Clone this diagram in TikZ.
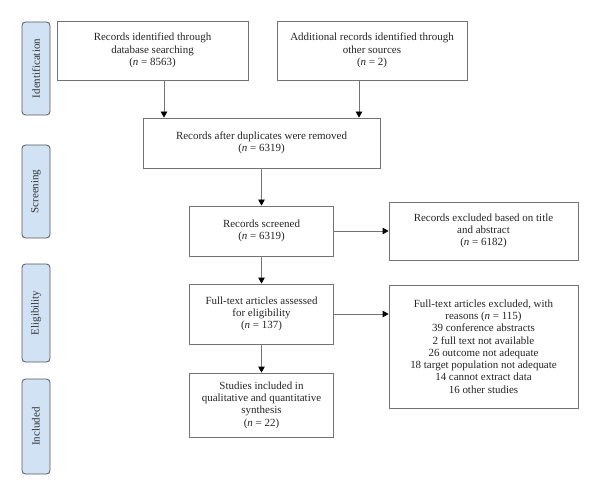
\documentclass[tikz,border=0pt]{standalone}
\usepackage{fontspec}
\setmainfont{Liberation Serif}
\usetikzlibrary{arrows.meta}
\definecolor{labfill}{RGB}{208,226,244}
\begin{document}
\begin{tikzpicture}[x=1bp,y=-1bp,
  box/.style={draw=black!55,line width=0.8bp,align=center,inner sep=2bp,
    font=\fontsize{11}{12.3}\selectfont,text=black!85},
  lab/.style={draw=black!65,fill=labfill,line width=0.8bp,rounded corners=3.5bp,
    minimum width=28bp,font=\fontsize{11}{11}\selectfont,text=black!80},
  arr/.style={draw=black!55,line width=0.8bp,-{Triangle[length=6bp,width=6.5bp,fill=black,color=black]}}]
\useasboundingbox (0,0) rectangle (600,496);
\fill[white] (0,0) rectangle (600,496);
% stage labels
\node[lab,minimum height=93bp] (L1) at (36,68.5) {\rotatebox{90}{Identification}};
\node[lab,minimum height=93bp] (L2) at (36,191.5) {\rotatebox{90}{Screening}};
\node[lab,minimum height=98bp] (L3) at (36,313) {\rotatebox{90}{Eligibility}};
\node[lab,minimum height=95bp] (L4) at (36,426.5) {\rotatebox{90}{Included}};
% boxes
\node[box,minimum width=191bp,minimum height=59bp] (b1) at (152.5,50.5)
  {Records identified through\\database searching\\(\textit{n} = 8563)};
\node[box,minimum width=190bp,minimum height=59bp] (b2) at (372,50.5)
  {Additional records identified through\\other sources\\(\textit{n} = 2)};
\node[box,minimum width=237bp,minimum height=50bp] (dup) at (261.5,143)
  {Records after duplicates were removed\\(\textit{n} = 6319)};
\node[box,minimum width=144bp,minimum height=50bp] (scr) at (261.5,231)
  {Records screened\\(\textit{n} = 6319)};
\node[box,minimum width=144bp,minimum height=60bp] (ft) at (261.5,314)
  {Full-text articles assessed\\for eligibility\\(\textit{n} = 137)};
\node[box,minimum width=144bp,minimum height=64bp] (inc) at (261.5,405)
  {Studies included in\\qualitative and quantitative\\synthesis\\(\textit{n} = 22)};
\node[box,minimum width=189bp,minimum height=58bp] (ex1) at (483.5,231)
  {Records excluded based on title\\and abstract\\(\textit{n} = 6182)};
\node[box,minimum width=189bp,minimum height=123bp] (ex2) at (483.5,346.5)
  {Full-text articles excluded, with\\reasons (\textit{n} = 115)\\39 conference abstracts\\2 full text not available\\26 outcome not adequate\\18 target population not adequate\\14 cannot extract data\\16 other studies};
% connectors
\coordinate (c1) at (164,0);
\coordinate (c2) at (359,0);
\coordinate (r2) at (0,314);
\draw[arr] (c1 |- b1.south) -- (c1 |- dup.north);
\draw[arr] (c2 |- b2.south) -- (c2 |- dup.north);
\draw[arr] (dup.south) -- (scr.north);
\draw[arr] (scr.south) -- (ft.north);
\draw[arr] (ft.south) -- (inc.north);
\draw[arr] (scr.east) -- (ex1.west);
\draw[arr] (ft.east) -- (r2 -| ex2.west);
\end{tikzpicture}
\end{document}
